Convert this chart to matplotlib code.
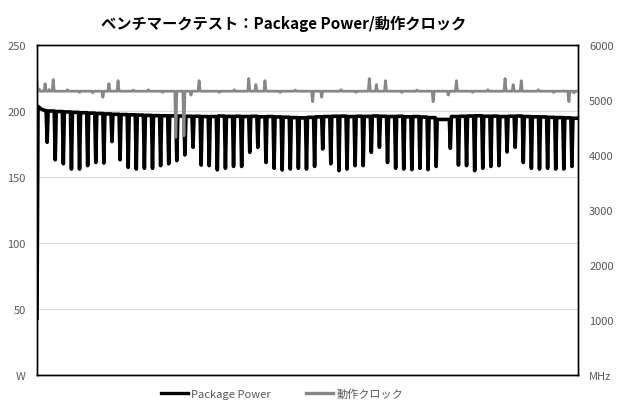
import numpy as np
import matplotlib
matplotlib.use("Agg")
import matplotlib.pyplot as plt
from matplotlib.lines import Line2D

plt.rcParams['font.family'] = ['Noto Sans CJK JP', 'DejaVu Sans']

TITLE = 'ベンチマークテスト：Package Power/動作クロック'
POWER_LABEL = 'Package Power'
CLOCK_LABEL = '動作クロック'

# samples before the first dip (W)
power_start = [43, 203.5, 202.8, 202.2, 201.6, 201.2, 200.9, 200.6, 200.4, 200.2]

# sample index of every dip in the Package Power trace
dip_idx = list(range(10, 395, 8)) + list(range(408, 529, 8))

# bottom of every dip (W)
power_dips = [
    176.3, 163.0, 160.0, 156.0, 156.0, 158.6, 161.0, 160.6, 176.8, 163.0,
    157.3, 156.0, 156.6, 156.6, 158.6, 160.0, 162.4, 166.7, 172.5, 159.0,
    158.6, 155.4, 156.6, 158.0, 158.0, 168.7, 172.5, 161.0, 156.6, 155.3,
    156.0, 156.6, 156.0, 158.0, 171.2, 160.0, 154.8, 156.0, 158.6, 158.6,
    168.7, 172.5, 161.0, 156.6, 156.0, 155.6, 156.6, 155.6, 158.0,
    171.7, 159.0, 158.6, 154.8, 156.6, 158.0, 158.6, 169.0, 172.5, 161.0,
    156.6, 156.0, 156.6, 156.0, 156.0, 158.0,
]

# level between a dip and the next one (W)
power_base = [
    200.0, 199.6, 199.3, 199.0, 198.7, 198.4, 198.1, 197.8, 197.5, 197.3,
    197.1, 196.9, 196.7, 196.5, 196.4, 196.3, 196.2, 196.0, 196.0, 195.8,
    195.8, 196.2, 195.9, 196.0, 195.8, 196.0, 195.6, 195.8, 195.5, 195.3,
    195.0, 194.8, 195.2, 195.6, 195.8, 196.0, 196.1, 195.8, 196.0, 195.9,
    196.2, 196.0, 195.8, 196.0, 195.6, 195.8, 195.4, 195.0, 193.6,
    195.8, 196.0, 196.2, 196.4, 196.0, 196.1, 195.8, 196.0, 196.2, 195.8,
    195.6, 195.5, 195.2, 195.0, 194.8, 194.5,
]

N_SAMPLES = 535

# clock: steady level plus the spikes / drops seen in the trace (MHz)
clock_level = 5160
clock_events = {
    0: 5330, 2: 5200, 8: 5297, 12: 5190, 16: 5370, 30: 5185, 42: 5140,
    55: 5130, 65: 5050, 71: 5297, 80: 5351, 95: 5180, 110: 5185,
    124: 5140, 137: 4322, 145: 4350, 152: 5090, 160: 5351, 180: 5140,
    195: 5185, 209: 5390, 216: 5280, 225: 5351, 240: 5140, 255: 5180,
    272: 4970, 281: 5050, 300: 5185, 315: 5140, 328: 5390, 335: 5280,
    344: 5351, 360: 5140, 375: 5180, 391: 4970, 406: 5090, 414: 5351,
    430: 5140, 445: 5185, 462: 5390, 470: 5280, 478: 5351, 495: 5185,
    510: 5140, 525: 4970, 530: 5130,
}

power = list(power_start)
for i, d in enumerate(power_dips):
    power.append(d)
    nxt = dip_idx[i + 1] if i + 1 < len(dip_idx) else N_SAMPLES
    power += [power_base[i]] * (nxt - dip_idx[i] - 1)
power = np.array(power)

clock = np.full(N_SAMPLES, clock_level, dtype=float)
for k, v in clock_events.items():
    clock[k] = v

t = np.arange(N_SAMPLES)

fig = plt.figure(figsize=(6.2, 4.1), dpi=100)
ax = fig.add_axes([37/620, 1-376/410, 541/620, 330/410])
ax2 = ax.twinx()

ax.plot(t, power, color='black', lw=2.6)
ax2.plot(t, clock, color='#878787', lw=2.0)

ax.set_xlim(0, N_SAMPLES - 1)
ax.set_ylim(0, 250)
ax2.set_ylim(0, 6000)

ax.set_yticks([0, 50, 100, 150, 200, 250])
ax.set_yticklabels(['W', '50', '100', '150', '200', '250'])
ax2.set_yticks([0, 1000, 2000, 3000, 4000, 5000, 6000])
ax2.set_yticklabels(['MHz', '1000', '2000', '3000', '4000', '5000', '6000'])
ax.set_xticks([])

for a in (ax, ax2):
    a.tick_params(axis='y', length=0, labelsize=8, labelcolor='#595959', pad=8)
    for s in a.spines.values():
        s.set_color('black')
        s.set_linewidth(1.0)

ax.grid(axis='y', color='#d9d9d9', lw=0.8)
ax.set_axisbelow(True)

fig.text(0.458, 0.941, TITLE, ha='center', va='center', fontsize=11,
         fontweight='bold', color='black')

handles = [Line2D([], [], color='black', lw=2.4),
           Line2D([], [], color='#878787', lw=2.4)]
fig.legend(handles, [POWER_LABEL, CLOCK_LABEL], loc='center',
           bbox_to_anchor=(0.455, 0.037), ncol=2, frameon=False,
           fontsize=8, handlelength=2.4, handletextpad=0.3,
           columnspacing=3.2, labelcolor='#595959')

fig.savefig('out.png', dpi=100)
